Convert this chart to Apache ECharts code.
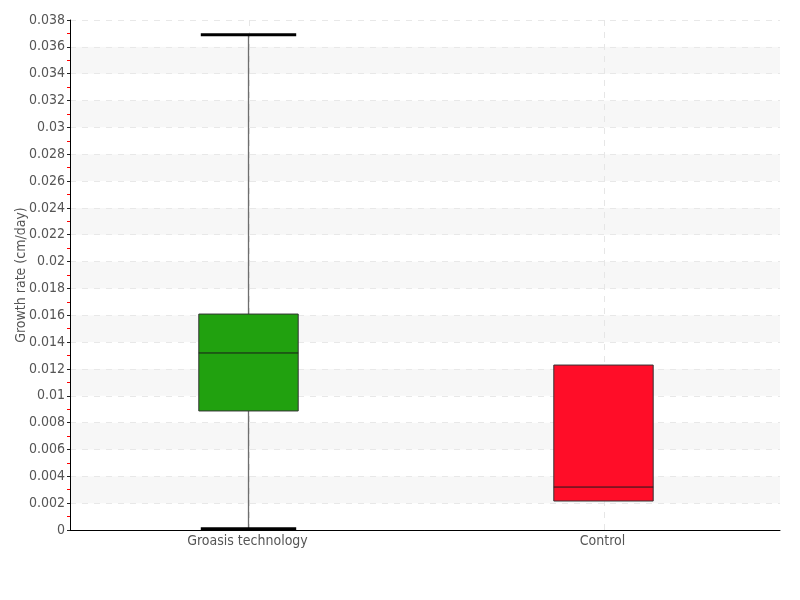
<!DOCTYPE html>
<html>
<head>
<meta charset="utf-8">
<script src="https://cdn.jsdelivr.net/npm/echarts@6/dist/echarts.min.js"></script>
<style>
  html, body { margin: 0; padding: 0; background: #fff; }
  #chart { width: 800px; height: 600px; }
</style>
</head>
<body>
<div id="chart"></div>
<script>
// categories and box statistics (cm/day)
const categories = ['Groasis technology', 'Control'];
const lowValues = [0.0001, 0.00216];
const q1Values = [0.00887, 0.00216];
const medianValues = [0.01319, 0.0032];
const q3Values = [0.01609, 0.01229];
const highValues = [0.0369, 0.01229];
const boxColors = ['#21a10f', '#ff0d28'];

// y axis range
const yMin = 0;
const yMax = 0.038;
const yInterval = 0.002;

const labelFont = "'Liberation Sans Narrow', 'DejaVu Sans Condensed', sans-serif";

const boxData = categories.map((c, i) => [i, lowValues[i], q1Values[i], medianValues[i], q3Values[i], highValues[i]]);

function renderBox(params, api) {
  const idx = api.value(0);
  const low = api.value(1), q1 = api.value(2), med = api.value(3), q3 = api.value(4), high = api.value(5);
  const x = Math.round(api.coord([idx, 0])[0]) + 0.5;
  const half = api.size([1, 0])[0] * 0.14;
  const yLow = api.coord([idx, low])[1];
  const yQ1 = api.coord([idx, q1])[1];
  const yMed = api.coord([idx, med])[1];
  const yQ3 = api.coord([idx, q3])[1];
  const yHigh = api.coord([idx, high])[1];
  const yTop = api.coord([idx, yMax])[1];
  const yBottom = api.coord([idx, yMin])[1];
  const children = [];
  //类目中心的竖向虚线
  children.push({ type: 'line', shape: { x1: x + 1, y1: yTop, x2: x + 1, y2: yBottom }, style: { stroke: '#e6e6e6', lineWidth: 1, lineDash: [6, 6] } });
  //须线
  if (low < q1) {
    children.push({ type: 'line', shape: { x1: x, y1: yQ1, x2: x, y2: yLow }, style: { stroke: '#6e6e6e', lineWidth: 1.3 } });
  }
  if (high > q3) {
    children.push({ type: 'line', shape: { x1: x, y1: yQ3, x2: x, y2: yHigh }, style: { stroke: '#6e6e6e', lineWidth: 1.3 } });
  }
  //箱体
  children.push({
    type: 'rect',
    shape: { x: x - half, y: yQ3, width: half * 2, height: yQ1 - yQ3 },
    style: { fill: boxColors[idx], stroke: '#333', lineWidth: 1 }
  });
  //中位数
  children.push({ type: 'line', shape: { x1: x - half, y1: yMed, x2: x + half, y2: yMed }, style: { stroke: '#1a1a1a', lineWidth: 1 } });
  //端线
  if (low < q1) {
    children.push({ type: 'line', shape: { x1: x - half + 2, y1: yLow, x2: x + half - 2, y2: yLow }, style: { stroke: '#000', lineWidth: 3 } });
  }
  if (high > q3) {
    children.push({ type: 'line', shape: { x1: x - half + 2, y1: yHigh, x2: x + half - 2, y2: yHigh }, style: { stroke: '#000', lineWidth: 3 } });
  }
  return { type: 'group', children: children };
}

const chart = echarts.init(document.getElementById('chart'));
chart.setOption({
  animation: false,
  grid: { left: 70, right: 20, top: 20, bottom: 70, containLabel: false, outerBoundsMode: 'none' },
  xAxis: {
    type: 'category',
    data: categories,
    boundaryGap: true,
    axisLine: { lineStyle: { color: '#000', width: 1 } },
    axisTick: { alignWithLabel: true, length: 3, lineStyle: { color: '#888' } },
    axisLabel: { color: '#555', fontSize: 14, fontFamily: labelFont, margin: 4 },
    splitLine: { show: false }
  },
  yAxis: {
    type: 'value',
    min: yMin,
    max: yMax,
    interval: yInterval,
    name: 'Growth rate (cm/day)',
    nameLocation: 'middle',
    nameGap: 42,
    nameMoveOverlap: false,
    nameTextStyle: { color: '#555', fontSize: 14, fontFamily: labelFont },
    axisLine: { show: true, lineStyle: { color: '#000', width: 1 } },
    axisTick: { show: true, length: 3, lineStyle: { color: '#222' } },
    minorTick: { show: true, splitNumber: 2, length: 3, lineStyle: { color: '#ff0000', width: 1 } },
    axisLabel: { color: '#555', fontSize: 14, fontFamily: labelFont, margin: 5 },
    splitLine: { show: true, lineStyle: { color: '#e8e8e8', type: [6, 6] } },
    splitArea: { show: true, areaStyle: { color: ['#ffffff', '#f7f7f7'] } }
  },
  series: [
    {
      type: 'custom',
      renderItem: renderBox,
      encode: { x: 0, y: [1, 2, 3, 4, 5] },
      data: boxData
    }
  ]
});
</script>
</body>
</html>
